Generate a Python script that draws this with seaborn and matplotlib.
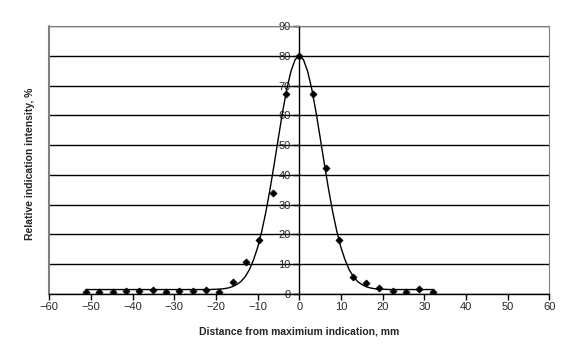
import numpy as np
import pandas as pd
import matplotlib
matplotlib.use('Agg')
import matplotlib.pyplot as plt
import seaborn as sns

distance_mm = [-51.2, -48.0, -44.8, -41.6, -38.4, -35.2, -32.0, -28.8, -25.6, -22.4,
               -19.2, -16.0, -12.8, -9.6, -6.4, -3.2, 0.0,
               3.2, 6.4, 9.6, 12.8, 16.0, 19.2, 22.4, 25.6, 28.8, 32.0]
intensity_pct = [0.6, 0.6, 0.6, 1.0, 1.0, 1.5, 0.6, 1.0, 1.0, 1.5,
                 0.6, 4.0, 10.6, 18.1, 33.8, 67.1, 79.8,
                 67.1, 42.3, 18.1, 5.6, 3.6, 2.0, 1.1, 0.6, 1.7, 0.6]

# Fitted curve
curve_x = [-51.2, -22, -20, -19, -18, -17, -16, -15, -14, -13, -12, -11, -10, -9, -8, -7,
           -6, -5, -4, -3, -2, -1, 0, 1, 2, 3, 4, 5, 6, 7, 8, 9, 10, 11, 12, 13, 14,
           15, 16, 17, 18, 19, 20, 22, 32.0]
curve_y = [1.5, 1.5, 1.6, 1.65, 1.8, 2.05, 2.5, 3.2, 4.2, 5.8, 8.1, 11.4, 15.6, 21.1, 27.7, 35.4,
           43.8, 52.6, 61.2, 68.8, 74.8, 78.7, 80.0, 78.7, 74.8, 68.8, 61.2, 52.6, 43.8, 35.4, 27.7,
           21.1, 15.6, 11.4, 8.1, 5.8, 4.2, 3.2, 2.5, 2.05, 1.8, 1.65, 1.6, 1.5, 1.5]

x_ticks = list(range(-60, 61, 10))
y_ticks = list(range(0, 91, 10))

sns.set_style("white")
plt.rcParams['font.family'] = ['Liberation Sans', 'DejaVu Sans']

fig = plt.figure(figsize=(5.76, 3.6), dpi=100)
ax = fig.add_axes([0.0856, 0.1833, 0.868, 0.7445])

pts = pd.DataFrame({'x': distance_mm, 'y': intensity_pct})
fit = pd.DataFrame({'x': curve_x, 'y': curve_y})

sns.lineplot(data=fit, x='x', y='y', color='black', linewidth=1, ax=ax, sort=False, zorder=3)
sns.scatterplot(data=pts, x='x', y='y', marker='D', s=13, color='black', edgecolor='black',
                linewidth=0.5, ax=ax, zorder=4)

ax.set_xlim(-60, 60)
ax.set_ylim(0, 90)
ax.set_xticks(x_ticks)
ax.set_yticks(y_ticks)

# horizontal gridlines
ax.grid(True, axis='y', color='black', linewidth=1)
ax.grid(False, axis='x')
ax.get_ygridlines()[-1].set_visible(False)
ax.get_ygridlines()[0].set_visible(False)

# y axis crosses at x = 0
ax.spines['left'].set_position(('data', 0))
ax.spines['left'].set_color('black')
ax.spines['left'].set_linewidth(1)
ax.spines['bottom'].set_color('black')
ax.spines['bottom'].set_linewidth(1)
ax.spines['top'].set_color('#808080')
ax.spines['right'].set_color('#808080')
ax.axvline(-60, color='#808080', linewidth=1.5, clip_on=False, zorder=1)

ax.tick_params(axis='both', direction='out', length=4, width=1, color='black',
               labelsize=8, pad=2, left=True, bottom=True)

ax.set_xlabel('Distance from maximium indication, mm', fontsize=7.5, fontweight='bold', labelpad=10)
ax.set_ylabel('')
fig.text(0.052, 0.545, 'Relative indication intensity, %', fontsize=7.5, fontweight='bold',
         rotation=90, ha='center', va='center')

fig.savefig('out.png', dpi=100)
